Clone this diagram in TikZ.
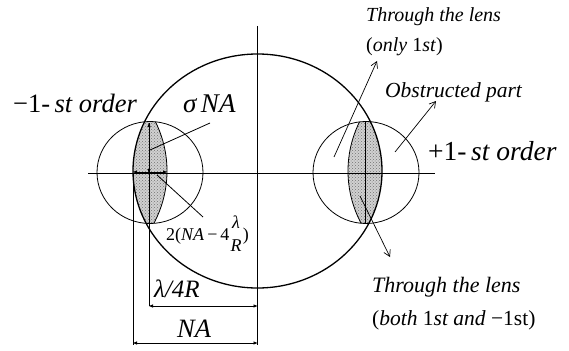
\documentclass[tikz,border=0pt]{standalone}
\usepackage{amsmath}
\usepackage{fontspec}
\setmainfont{Liberation Serif}
\usetikzlibrary{arrows.meta,shapes.geometric,patterns}
\tikzset{
  thinline/.style={line width=0.8pt},
  bigline/.style={line width=1.3pt},
  dimarrow/.style={line width=0.8pt,{Triangle[length=4pt,width=3pt]}-{Triangle[length=4pt,width=3pt]}},
  openarrow/.style={line width=0.7pt,-{Straight Barb[length=6pt,width=7pt]}},
  lensfill/.style={fill=black!18},
  lensdots/.style={pattern=crosshatch dots,pattern color=black!55},
  lbl/.style={inner sep=0pt,anchor=base west},
}
\begin{document}
\begin{tikzpicture}[x=1pt,y=-1pt]
\useasboundingbox (0,0) rectangle (569,350);
% lenses
\begin{scope}
  \clip (257.5,171) ellipse [x radius=124.5, y radius=117];
  \clip (42.5,171) ellipse [x radius=124.5, y radius=117];
  \fill[lensfill] (150,172.5) ellipse [x radius=53, y radius=51];
  \fill[lensdots] (150,172.5) ellipse [x radius=53, y radius=51];
\end{scope}
\begin{scope}
  \clip (257.5,171) ellipse [x radius=124.5, y radius=117];
  \clip (150,172.5) ellipse [x radius=53, y radius=51];
  \draw[thinline] (42.5,171) ellipse [x radius=124.5, y radius=117];
\end{scope}
\begin{scope}
  \clip (257.5,171) ellipse [x radius=124.5, y radius=117];
  \clip (472.5,171) ellipse [x radius=124.5, y radius=117];
  \fill[lensfill] (366,172.5) ellipse [x radius=53, y radius=51];
  \fill[lensdots] (366,172.5) ellipse [x radius=53, y radius=51];
\end{scope}
\begin{scope}
  \clip (257.5,171) ellipse [x radius=124.5, y radius=117];
  \clip (366,172.5) ellipse [x radius=53, y radius=51];
  \draw[thinline] (472.5,171) ellipse [x radius=124.5, y radius=117];
\end{scope}
% circles
\node[draw,bigline,ellipse,minimum width=249pt,minimum height=234pt,inner sep=0pt] (pupil) at (257.5,171) {};
\draw[thinline] (150,172.5) ellipse [x radius=53, y radius=51];
\draw[thinline] (366,172.5) ellipse [x radius=53, y radius=51];
% axes
\coordinate (axL) at (88,173.5);
\coordinate (axR) at (435,173.5);
\coordinate (axT) at (257.5,26);
\coordinate (axB) at (257.5,345);
\draw[thinline] (axL) -- (axR);
\draw[thinline] (axT) -- (axB);
% left lens construction lines
\coordinate (lt) at (149,123);
\coordinate (lc) at (149,173);
\coordinate (lb) at (149,306);
\coordinate (ll) at (133,172);
\coordinate (lr) at (167,172);
\coordinate (llt) at (133,173);
\coordinate (llb) at (133,345);
\coordinate (dimA) at (257.5,306);
\coordinate (dimN) at (133,343);
\coordinate (dimNR) at (257.5,343);
\draw[thinline] (lt) -- (lb);
\draw[dimarrow] (lt) -- (lc);
\draw[dimarrow] (ll) -- (lr);
\draw[thinline] (llt) -- (llb);
\draw[dimarrow] (lb) -- (dimA);
\draw[dimarrow] (dimN) -- (dimNR);
% right lens centre line
\coordinate (rt) at (365.5,122);
\coordinate (rb) at (365.5,223);
\draw[line width=1.8pt] (rt) -- (rb);
% labels
\node[lbl] (m1) at (13,112) {\fontsize{26.5}{29}\selectfont −1-\,\itshape st order};
\node[lbl] (sig) at (183,112) {\fontsize{27}{29}\selectfont\itshape σ\,NA};
\node[lbl] (frac) at (166,240) {\fontsize{18}{20}\selectfont 2(\textit{NA}\,−\,4$\genfrac{}{}{0pt}{0}{\mbox{\itshape λ}}{\mbox{\itshape R}}$)};
\node[lbl] (lam) at (154,297) {\fontsize{25}{27}\selectfont\itshape λ/4R};
\node[lbl] (na) at (177,337) {\fontsize{26.5}{28}\selectfont\itshape NA};
\node[lbl] (t1) at (366,22) {\fontsize{20}{23}\selectfont\itshape Through the lens};
\node[lbl] (t2) at (366,52) {\fontsize{20}{23}\selectfont (\textit{only} 1\textit{st})};
\node[lbl] (ob) at (385,97) {\fontsize{21.5}{23}\selectfont\itshape Obstructed part};
\node[lbl] (p1) at (428,160) {\fontsize{27.5}{29}\selectfont +1-\,\itshape st order};
\node[lbl] (b1) at (372,292) {\fontsize{22}{24}\selectfont\itshape Through the lens};
\node[lbl] (b2) at (372,325) {\fontsize{21.5}{24}\selectfont (\textit{both} 1\textit{st and} −1st)};
% leaders
\coordinate (sigEnd) at (150,150);
\coordinate (sigStart) at (210,123);
\draw[thinline] (sigStart) -- (sigEnd);
\coordinate (fracS) at (157,175);
\coordinate (fracE) at (203,217);
\draw[thinline] (fracS) -- (fracE);
\coordinate (a1s) at (334,157);
\coordinate (a1e) at (377,61);
\draw[openarrow] (a1s) -- (a1e);
\coordinate (a2s) at (395,152);
\coordinate (a2e) at (436,101);
\draw[openarrow] (a2s) -- (a2e);
\coordinate (a3s) at (360,196);
\coordinate (a3e) at (390,257);
\draw[openarrow] (a3s) -- (a3e);
\end{tikzpicture}
\end{document}
